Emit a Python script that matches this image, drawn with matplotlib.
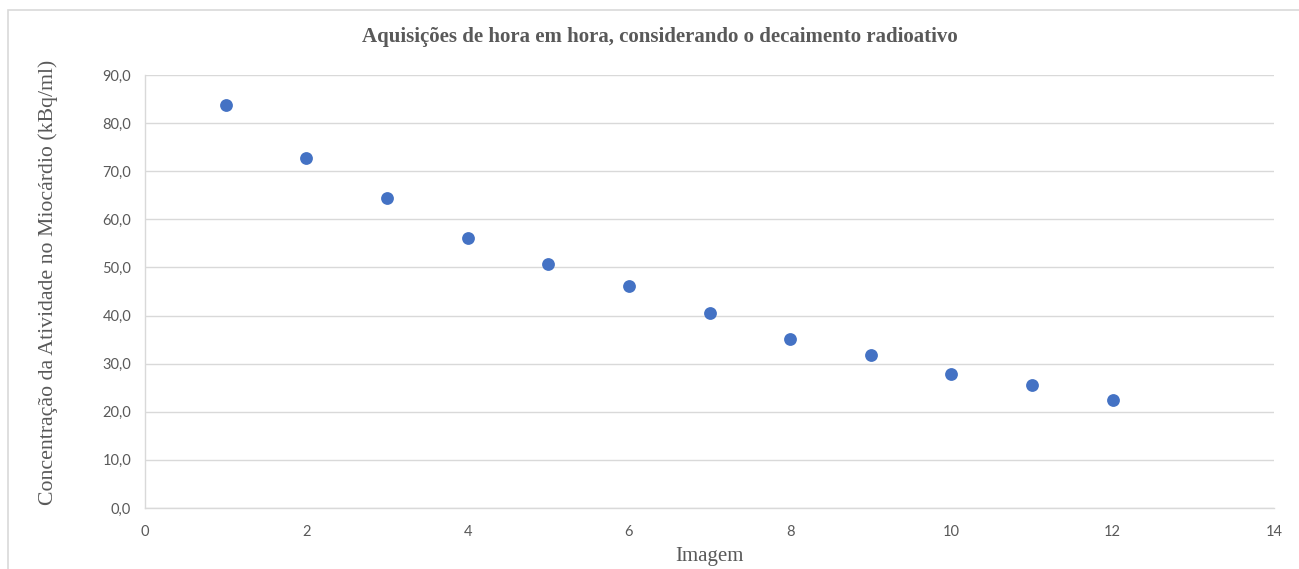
import matplotlib
matplotlib.use("Agg")
import matplotlib.pyplot as plt
from matplotlib.patches import Rectangle
from matplotlib.ticker import FuncFormatter

imagem = [1, 2, 3, 4, 5, 6, 7, 8, 9, 10, 11, 12]
concentracao = [83.8, 72.7, 64.4, 56.1, 50.8, 46.2, 40.6, 35.1, 31.8, 27.9, 25.6, 22.4]
title = "Aquisições de hora em hora, considerando o decaimento radioativo"
xlabel = "Imagem"
ylabel = "Concentração da Atividade no Miocárdio (kBq/ml)"

fig = plt.figure(figsize=(12.99, 5.69), dpi=100)
fig.patch.set_facecolor("white")
fig.add_artist(Rectangle((8/1299, -0.01), 1.0, 1 - 10/569 + 0.01, transform=fig.transFigure,
                         fill=False, edgecolor="#d9d9d9", linewidth=1.2))

ax = fig.add_axes([145/1299, 1 - 508/569, (1274 - 145)/1299, (508 - 75)/569])
ax.scatter(imagem, concentracao, s=85, color="#4472C4", zorder=3, linewidths=0)

ax.set_xlim(0, 14)
ax.set_ylim(0, 90)
ax.set_xticks(range(0, 15, 2))
ax.set_yticks(range(0, 91, 10))
ax.yaxis.set_major_formatter(FuncFormatter(lambda v, p: f"{v:.1f}".replace(".", ",")))
ax.grid(axis="y", color="#d9d9d9", linewidth=1)
ax.set_axisbelow(True)
for s in ["top", "right"]:
    ax.spines[s].set_visible(False)
for s in ["left", "bottom"]:
    ax.spines[s].set_color("#d9d9d9")
    ax.spines[s].set_linewidth(1)
ax.tick_params(length=0, labelsize=10.5, labelcolor="#595959", pad=10)
ax.tick_params(axis="x", pad=12)
for lab in ax.get_xticklabels() + ax.get_yticklabels():
    lab.set_family("Lato")

ax.set_xlabel(xlabel, family="Liberation Serif", fontsize=15, color="#595959", labelpad=6)
ax.set_ylabel(ylabel, family="Liberation Serif", fontsize=15.7, color="#595959")
ax.yaxis.set_label_coords((58 - 145) / (1274 - 145), 0.5 - (282 - 291.5) / 433)
fig.text(660/1299, 1 - 37/569, title, family="Liberation Serif", fontsize=15,
         fontweight="bold", color="#595959", ha="center", va="center")

fig.savefig("out.png", dpi=100)
